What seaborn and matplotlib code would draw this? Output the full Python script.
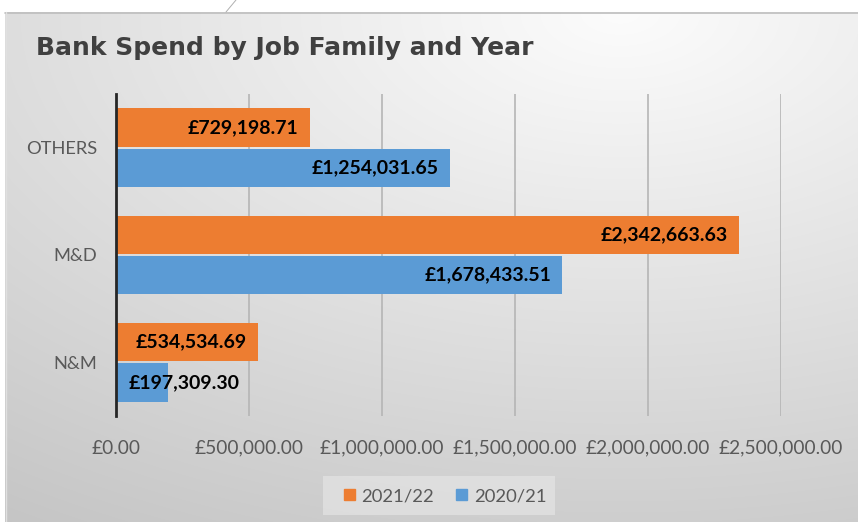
import numpy as np
import pandas as pd
import matplotlib
matplotlib.use("Agg")
import matplotlib.pyplot as plt
import seaborn as sns
from matplotlib.patches import Rectangle
from matplotlib.lines import Line2D

# ---- data ----
categories = ["OTHERS", "M&D", "N&M"]
years = ["2021/22", "2020/21"]
spend_2021_22 = [729198.71, 2342663.63, 534534.69]
spend_2020_21 = [1254031.65, 1678433.51, 197309.30]
x_ticks = [0, 500000, 1000000, 1500000, 2000000, 2500000]
x_tick_labels = ["£0.00", "£500,000.00", "£1,000,000.00", "£1,500,000.00",
                 "£2,000,000.00", "£2,500,000.00"]
title = "Bank Spend by Job Family and Year"
colors = {"2021/22": "#ED7D31", "2020/21": "#5B9BD5"}

df = pd.DataFrame({
    "Job Family": categories * 2,
    "Year": [years[0]] * 3 + [years[1]] * 3,
    "Spend": spend_2021_22 + spend_2020_21,
})

sns.set_theme(style="white")
plt.rcParams["font.family"] = ["Lato", "DejaVu Sans"]

W, H = 858, 522
fig = plt.figure(figsize=(W / 100, H / 100), dpi=100)

# ---- background gradient ----
bg = fig.add_axes([0, 0, 1, 1], zorder=-10)
yy, xx = np.mgrid[0:H, 0:W]
d = np.sqrt(((xx - 620) / 900.0) ** 2 + ((yy - 12) / 500.0) ** 2)
g = np.clip(252 - 45 * d, 0, 255) / 255.0
img = np.dstack([g, g, g])
img[:12, :, :] = 1.0
img[:, :5, :] = 1.0
bg.imshow(img, extent=(0, W, H, 0), aspect="auto", interpolation="bilinear")
bg.set_xlim(0, W)
bg.set_ylim(H, 0)
bg.axis("off")
bg.add_line(Line2D([5, W], [12.5, 12.5], color="#BDBDBD", lw=1.2))
bg.add_line(Line2D([5.5, 5.5], [12, H], color="#E0E0E0", lw=1))
bg.add_line(Line2D([236, 226], [0, 12], color="#B0B0B0", lw=0.7))
# legend box
bg.add_patch(Rectangle((323, 476), 232, 39, facecolor="#E8E8E8", edgecolor="none", alpha=0.6))

# ---- main axes ----
left, right, top, bottom = 116, 781, 94, 416
ax = fig.add_axes([left / W, 1 - bottom / H, (right - left) / W, (bottom - top) / H])
ax.patch.set_alpha(0)

sns.barplot(data=df, y="Job Family", x="Spend", hue="Year", order=categories,
            hue_order=years, palette=colors, orient="h", width=0.75, gap=0.05,
            saturation=1, linewidth=0, ax=ax, legend=False, zorder=3)

ax.set_xlim(0, 2500000)
ax.set_ylim(2.5, -0.5)
ax.set_xticks(x_ticks)
ax.set_xticklabels(x_tick_labels)
ax.set_xlabel("")
ax.set_ylabel("")
ax.tick_params(axis="x", length=0, pad=17, labelsize=13.8, labelcolor="#595959")
ax.tick_params(axis="y", length=0, pad=13.5, labelsize=13.2, labelcolor="#595959")
ax.grid(axis="x", color="#B5B5B5", lw=1.2, zorder=0)
ax.grid(axis="y", visible=False)
for s in ["top", "right", "bottom"]:
    ax.spines[s].set_visible(False)
ax.spines["left"].set_color("#262626")
ax.spines["left"].set_linewidth(2)
ax.spines["left"].set_zorder(5)

# ---- data labels ----
fig.canvas.draw()
renderer = fig.canvas.get_renderer()
for cont, vals in zip(ax.containers, [spend_2021_22, spend_2020_21]):
    for bar, v in zip(cont, vals):
        yc = bar.get_y() + bar.get_height() / 2
        txt = "£{:,.2f}".format(v)
        t = ax.annotate(txt, xy=(v, yc), xytext=(-8, 0), textcoords="offset points",
                        ha="right", va="center", fontsize=14, fontweight="bold",
                        color="#000000", zorder=6)
        bb = t.get_window_extent(renderer)
        x0 = ax.transData.transform((0, yc))[0]
        if bb.x0 < x0 + 10:
            t.remove()
            ax.annotate(txt, xy=(0, yc), xytext=(9, 0), textcoords="offset points",
                        ha="left", va="center", fontsize=14, fontweight="bold",
                        color="#000000", zorder=6)

# ---- title ----
fig.text(36 / W, 1 - 48 / H, title, ha="left", va="center", fontsize=18,
         fontweight="bold", color="#404040", family=["DejaVu Sans"])

# ---- legend ----
handles = [Rectangle((0, 0), 1, 1, color=colors[y]) for y in years]
fig.legend(handles, years, loc="center", bbox_to_anchor=(445 / W, 1 - 496 / H),
           ncol=2, frameon=False, fontsize=13.3, handlelength=0.6, handleheight=0.6,
           handletextpad=0.35, columnspacing=1.2, labelcolor="#595959")

fig.savefig("out.png", dpi=100)
